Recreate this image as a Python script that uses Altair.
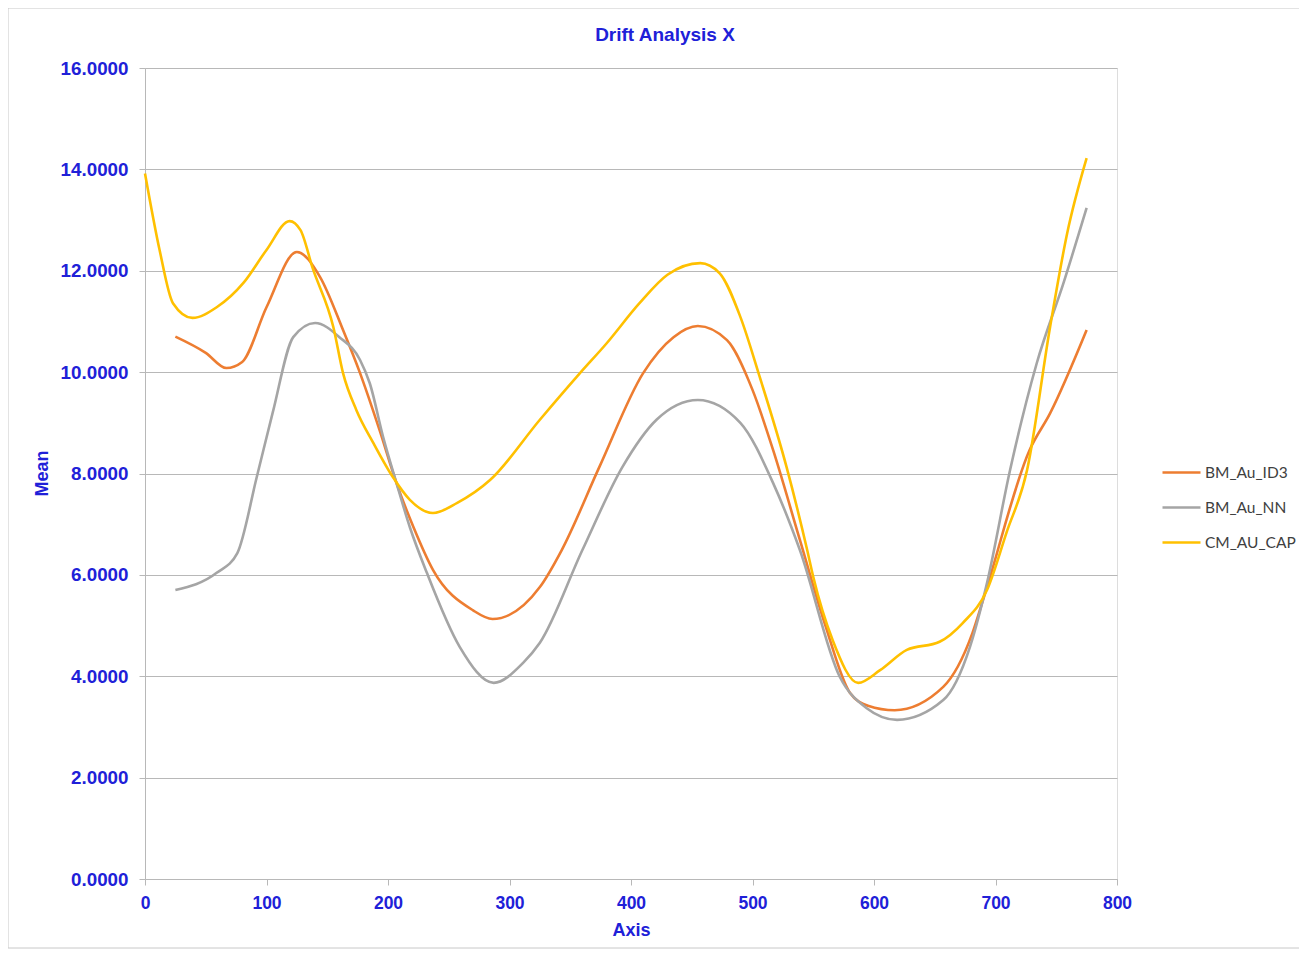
import altair as alt
import pandas as pd

series_names = ["BM_Au_ID3", "BM_Au_NN", "CM_AU_CAP"]
series_colors = ["#ED7D31", "#A5A5A5", "#FFC000"]

id3_x = [25, 50, 67, 80, 100, 125, 144, 163, 177, 193, 207, 221, 237, 270, 286, 325, 343, 374,
         410, 435, 455, 479, 500, 517, 539, 560, 580, 595, 617, 657, 681, 691, 728, 745, 775]
id3_y = [10.70, 10.38, 10.08, 10.20, 11.28, 12.37, 11.88, 10.83, 9.98, 8.86, 7.81, 6.94, 6.10,
         5.30, 5.13, 5.76, 6.49, 8.13, 9.98, 10.69, 10.91, 10.63, 9.65, 8.46, 6.69, 5.00, 3.68,
         3.42, 3.33, 3.79, 4.85, 5.60, 8.46, 9.19, 10.83]

nn_x = [25, 59, 76, 92, 105, 122, 140, 160, 177, 185, 196, 207, 218, 232, 259, 287, 311, 325,
        360, 393, 421, 455, 490, 517, 539, 572, 594, 619, 657, 679, 693, 712, 734, 756, 775]
nn_y = [5.70, 6.04, 6.43, 7.93, 9.19, 10.69, 10.97, 10.69, 10.24, 9.78, 8.72, 7.81, 6.94, 6.04,
        4.58, 3.87, 4.26, 4.66, 6.49, 8.13, 9.06, 9.45, 9.00, 7.81, 6.49, 3.98, 3.37, 3.14, 3.53,
        4.58, 5.84, 8.07, 10.18, 11.76, 13.24]

cap_x = [0, 12, 23, 39, 59, 81, 100, 119, 128, 138, 155, 163, 174, 188, 204, 218, 237, 257,
         284, 325, 358, 380, 407, 430, 457, 473, 490, 506, 528, 545, 550, 566, 587, 605, 627,
         654, 673, 693, 709, 726, 745, 759, 775]
cap_y = [13.92, 12.41, 11.36, 11.07, 11.28, 11.76, 12.41, 12.98, 12.80, 12.05, 10.89, 9.98,
         9.25, 8.60, 7.93, 7.48, 7.22, 7.42, 7.87, 9.06, 9.98, 10.57, 11.36, 11.92, 12.15,
         11.95, 11.09, 9.90, 8.13, 6.49, 5.96, 4.71, 3.87, 4.12, 4.52, 4.68, 5.05, 5.70, 6.83,
         8.07, 10.90, 12.74, 14.22]

x_ticks = [0, 100, 200, 300, 400, 500, 600, 700, 800]
y_ticks = [0, 2, 4, 6, 8, 10, 12, 14, 16]
chart_title = "Drift Analysis X"

rows = []
for name, xs, ys in [(series_names[0], id3_x, id3_y),
                     (series_names[1], nn_x, nn_y),
                     (series_names[2], cap_x, cap_y)]:
    for i, (a, b) in enumerate(zip(xs, ys)):
        rows.append({"series": name, "Axis": a, "Mean": b, "order": i})
df = pd.DataFrame(rows)

BLUE = "#2020D8"
GRID = "#B8B8B8"
FONT = "Liberation Sans"

lines = alt.Chart(df).mark_line(strokeWidth=2.6, interpolate="monotone").encode(
    x=alt.X("Axis:Q",
            scale=alt.Scale(domain=[0, 800], nice=False, zero=False),
            axis=alt.Axis(values=x_ticks, title="Axis", grid=False, format="d",
                          labelFlush=False,
                          tickSize=6, tickColor=GRID, domainColor=GRID,
                          labelPadding=9, labelFontSize=17.5, labelFont=FONT,
                          labelFontWeight="bold", labelColor=BLUE,
                          titleFontSize=18, titleFont=FONT, titleFontWeight="bold",
                          titleColor=BLUE, titleX=486, titleY=51,
                          titleBaseline="middle", titleAlign="center")),
    y=alt.Y("Mean:Q",
            scale=alt.Scale(domain=[0, 16], nice=False),
            axis=alt.Axis(values=y_ticks, title="Mean", format=".4f",
                          labelFlush=False,
                          grid=True, gridColor=GRID, gridWidth=1.2,
                          tickSize=6, tickColor=GRID, domainColor=GRID,
                          labelPadding=11, labelFontSize=18.8, labelFont=FONT,
                          labelFontWeight="bold", labelColor=BLUE,
                          titleFontSize=18, titleFont=FONT, titleFontWeight="bold",
                          titleColor=BLUE, titleX=-103, titleY=405, titleAngle=270,
                          titleBaseline="middle", titleAlign="center")),
    color=alt.Color("series:N",
                    scale=alt.Scale(domain=series_names, range=series_colors),
                    legend=alt.Legend(title=None, orient="none", legendX=1016, legendY=384,
                                      symbolType="stroke", symbolSize=1444,
                                      symbolStrokeWidth=2.6, rowPadding=6,
                                      labelFont="Lato", labelFontSize=15.5,
                                      labelColor="#404040", labelOffset=3)),
    order="order:Q",
)

frame = alt.Chart(pd.DataFrame({"k": [0]})).mark_rect(
    fill=None, stroke="#C8C8C8", strokeWidth=1
).encode(
    x=alt.value(-137), x2=alt.value(1160), y=alt.value(-60), y2=alt.value(880)
)

title_mark = alt.Chart(pd.DataFrame({"t": [chart_title]})).mark_text(
    font=FONT, fontSize=19, fontWeight="bold", color=BLUE,
    align="center", baseline="middle"
).encode(text="t:N", x=alt.value(520), y=alt.value(-33))

chart = alt.layer(frame, lines, title_mark).properties(
    width=972, height=811,
    autosize=alt.AutoSizeParams(type="none"),
    padding={"left": 137, "top": 60, "right": 182, "bottom": 70},
).configure_view(stroke=None).configure(background="white")

chart.save("out.html", embed_options={"renderer": "svg", "actions": False})
